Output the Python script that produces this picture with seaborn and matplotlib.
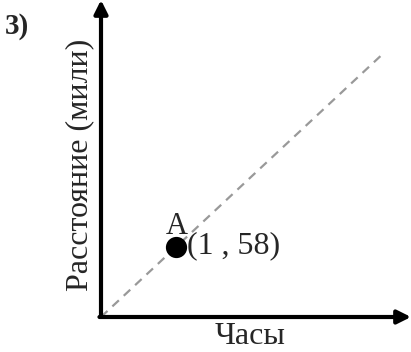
import matplotlib
matplotlib.use("Agg")
import matplotlib.pyplot as plt
import seaborn as sns
import pandas as pd

# -----------------------------
# Data
# -----------------------------
line_x = [0, 3.77]
line_y = [0, 218.7]
point_x = [1]
point_y = [58]
point_name = "A"
point_label = "(1 , 58)"

sns.set_style("white")
plt.rcParams["font.family"] = ["Liberation Serif", "DejaVu Serif"]

fig = plt.figure(figsize=(4.11, 3.52), dpi=100)
ax = fig.add_axes([101 / 411, 35 / 352, 310 / 411, 317 / 352])
ax.set_xlim(0, 310 / 75)
ax.set_ylim(0, 317 / 1.207)
for s in ax.spines.values():
    s.set_visible(False)
ax.set_xticks([])
ax.set_yticks([])

# dashed diagonal
sns.lineplot(x=line_x, y=line_y, ax=ax, color="#999999", linestyle=(0, (4, 3)),
             linewidth=1.6)

# point
sns.scatterplot(x=point_x, y=point_y, ax=ax, color="black", s=200,
                edgecolor="black", zorder=5)
ax.text(point_x[0] - 0.14, point_y[0] + 5, point_name, fontsize=22,
        ha="left", va="bottom")
ax.text(point_x[0] + 0.14, point_y[0] + 1, point_label, fontsize=23,
        ha="left", va="center")

# axes arrows
ax.annotate("", xy=(0, 1.0), xytext=(0, 0), xycoords="axes fraction",
            arrowprops=dict(arrowstyle="-|>,head_length=0.8,head_width=0.4",
                            color="black", lw=3, shrinkA=0, shrinkB=0))
ax.annotate("", xy=(1.0, 0), xytext=(-0.005, 0), xycoords="axes fraction",
            arrowprops=dict(arrowstyle="-|>,head_length=0.8,head_width=0.4",
                            color="black", lw=3, shrinkA=0, shrinkB=0))

fig.text(80 / 411, 1 - 165 / 352, "Расстояние (мили)", rotation=90,
         fontsize=23, ha="center", va="center")
fig.text(250 / 411, 1 - 337 / 352, "Часы", fontsize=23, ha="center", va="center")
fig.text(5 / 411, 1 - 27 / 352, "3)", fontsize=21, fontweight="bold",
         ha="left", va="center")

plt.savefig("out.png", dpi=100)
plt.close()
